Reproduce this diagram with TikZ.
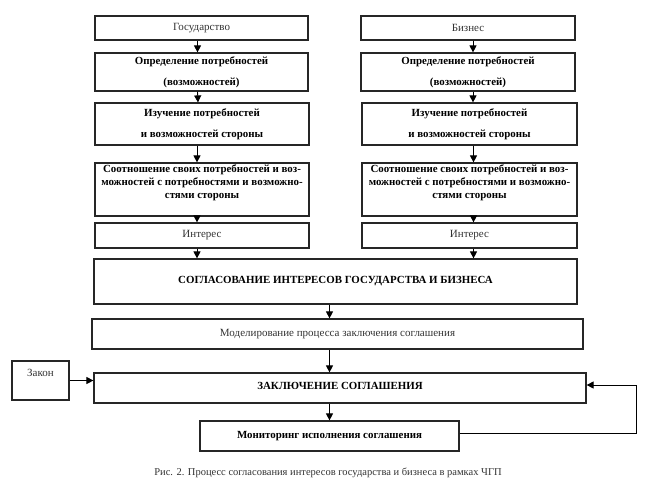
\documentclass[tikz,border=0pt]{standalone}
\usepackage{fontspec}
\setmainfont{Liberation Serif}
\usetikzlibrary{arrows.meta}
\tikzset{
  box/.style={draw=black!85, line width=1.2pt, inner sep=0pt, align=center},
  reg/.style={font=\fontsize{11}{13}\selectfont, text=black!80},
  bld/.style={font=\bfseries\fontsize{10.9}{13}\selectfont},
  bldw/.style={font=\bfseries\fontsize{10.9}{21}\selectfont},
  arr/.style={line width=0.9pt, draw=black, -{Triangle[length=7pt,width=7pt]}},
}
\begin{document}
\begin{tikzpicture}[x=1pt,y=-1pt]
\useasboundingbox (0,0) rectangle (652,491);
% left column
\node[box,reg,minimum width=213pt,minimum height=24pt] (g1) at (201.5,28) {Государство};
\node[box,bldw,minimum width=213pt,minimum height=38pt] (g2) at (201.5,72) {Определение потребностей\\(возможностей)};
\node[box,bldw,minimum width=214pt,minimum height=42pt] (g3) at (202,124) {Изучение потребностей\\и возможностей стороны};
\node[box,minimum width=214pt,minimum height=53pt] (g4) at (202,189.5) {};
\node[bld,align=center] (g4t) at (202,183) {Соотношение своих потребностей и воз-\\можностей с потребностями и возможно-\\стями стороны};
\node[box,reg,minimum width=214pt,minimum height=25pt] (g5) at (202,235.5) {Интерес};
% right column
\node[box,reg,minimum width=214pt,minimum height=24pt] (b1) at (468,28) {Бизнес};
\node[box,bldw,minimum width=214pt,minimum height=38pt] (b2) at (468,72) {Определение потребностей\\(возможностей)};
\node[box,bldw,minimum width=215pt,minimum height=42pt] (b3) at (469.5,124) {Изучение потребностей\\и возможностей стороны};
\node[box,minimum width=215pt,minimum height=53pt] (b4) at (469.5,189.5) {};
\node[bld,align=center] (b4t) at (469.5,183) {Соотношение своих потребностей и воз-\\можностей с потребностями и возможно-\\стями стороны};
\node[box,reg,minimum width=215pt,minimum height=25pt] (b5) at (469.5,235.5) {Интерес};
% lower part
\node[box,bld,minimum width=483pt,minimum height=45pt] (s) at (335.5,281.5) {СОГЛАСОВАНИЕ ИНТЕРЕСОВ ГОСУДАРСТВА И БИЗНЕСА};
\node[box,reg,minimum width=491pt,minimum height=30pt] (m) at (337.5,334) {Моделирование процесса заключения соглашения};
\node[box,minimum width=57pt,minimum height=39pt] (z) at (40.5,380.5) {};
\node[reg] (zt) at (40.5,373) {Закон};
\node[box,minimum width=492pt,minimum height=30pt] (k) at (340,388) {};
\node[bld] (kt) at (340,385.5) {ЗАКЛЮЧЕНИЕ СОГЛАШЕНИЯ};
\node[box,bld,minimum width=259pt,minimum height=30pt] (mon) at (329.5,436) {Мониторинг исполнения соглашения};
\node[font=\fontsize{10.5}{12}\selectfont, text=black!80] (cap) at (328,473) {Рис. 2. Процесс согласования интересов государства и бизнеса в рамках ЧГП};
\coordinate (fb) at (636,385);
% arrows left
\draw[arr] ([xshift=-4pt]g1.south) -- ([xshift=-4pt]g2.north);
\draw[arr] ([xshift=-4pt]g2.south) -- ([xshift=-4pt]g3.north);
\draw[arr] ([xshift=-5pt]g3.south) -- ([xshift=-5pt]g4.north);
\draw[arr] ([xshift=-5pt]g4.south) -- ([xshift=-5pt]g5.north);
\draw[arr] ([xshift=-5pt]g5.south) -- ([xshift=-5pt]g5.south |- s.north);
% arrows right
\draw[arr] ([xshift=5pt]b1.south) -- ([xshift=5pt]b1.south |- b2.north);
\draw[arr] ([xshift=5pt]b2.south) -- ([xshift=5pt]b2.south |- b3.north);
\draw[arr] ([xshift=4pt]b3.south) -- ([xshift=4pt]b4.north);
\draw[arr] ([xshift=4pt]b4.south) -- ([xshift=4pt]b5.north);
\draw[arr] ([xshift=4pt]b5.south) -- ([xshift=4pt]b5.south |- s.north);
% central arrows
\draw[arr] (s.south -| mon.north) -- (m.north -| mon.north);
\draw[arr] (m.south -| mon.north) -- (k.north -| mon.north);
\draw[arr] (k.south -| mon.north) -- (mon.north);
\draw[arr] (z.east) -- (z.east -| k.west);
\draw[arr] ([yshift=3pt]mon.east) -| (fb) -- (fb -| k.east);
\end{tikzpicture}
\end{document}
